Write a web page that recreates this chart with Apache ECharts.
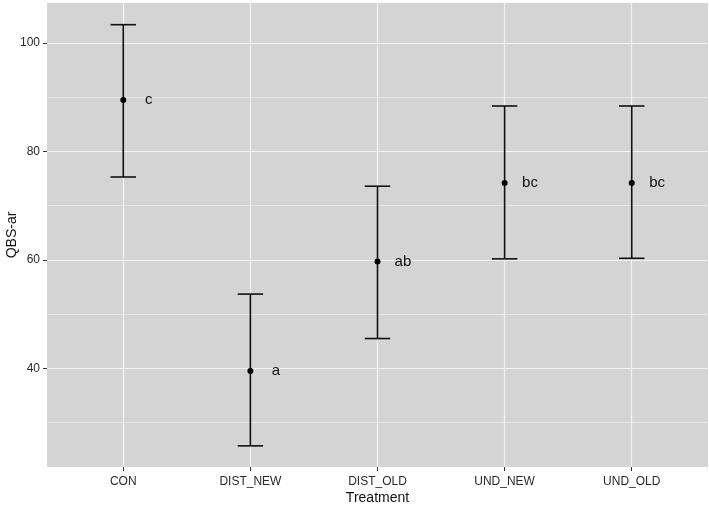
<!DOCTYPE html>
<html lang="en">
<head>
    <meta charset="UTF-8">
    <title>QBS-ar by treatment</title>
    <script src="https://cdn.jsdelivr.net/npm/echarts@6/dist/echarts.min.js"></script>
    <style>
        body { margin: 0; background: #fff; }
        #main { width: 709px; height: 506px; }
    </style>
</head>
<body>
    <div id="main"></div>
    <script type="text/javascript">
        // data
        var categories = ['CON', 'DIST_NEW', 'DIST_OLD', 'UND_NEW', 'UND_OLD'];
        var means = [89.5, 39.5, 59.7, 74.2, 74.2];
        var lower = [75.3, 25.7, 45.5, 60.2, 60.3];
        var upper = [103.4, 53.7, 73.6, 88.4, 88.4];
        var letters = ['c', 'a', 'ab', 'bc', 'bc'];
        var yTicks = [40, 60, 80, 100];
        var yMinor = [30, 50, 70, 90];

        var positions = categories.map(function (c, i) { return i + 1; });

        var rows = categories.map(function (c, i) {
            return [i + 1, means[i], lower[i], upper[i], letters[i]];
        });

        var gridLines = [];
        yTicks.forEach(function (v) {
            gridLines.push({ yAxis: v, lineStyle: { width: 1.2 } });
        });
        yMinor.forEach(function (v) {
            gridLines.push({ yAxis: v, lineStyle: { width: 0.6 } });
        });
        positions.forEach(function (v) {
            gridLines.push({ xAxis: v, lineStyle: { width: 1.2 } });
        });

        var myChart = echarts.init(document.getElementById('main'));

        var option = {
            animation: false,
            textStyle: { fontFamily: 'Liberation Sans, Arial, sans-serif' },
            grid: {
                left: 47, right: 1, top: 3, bottom: 39,
                outerBoundsMode: 'none',
                containLabel: false,
                show: true, backgroundColor: '#d4d4d4', borderWidth: 0
            },
            xAxis: {
                type: 'value',
                min: 0.4,
                max: 5.6,
                name: 'Treatment',
                nameLocation: 'middle',
                nameMoveOverlap: false,
                nameGap: 24,
                nameTextStyle: { fontSize: 14, color: '#111' },
                axisLine: { show: false },
                axisTick: { show: true, length: 4, customValues: positions, lineStyle: { color: '#333' } },
                axisLabel: {
                    customValues: positions,
                    margin: 9,
                    fontSize: 12,
                    color: '#2a2a2a',
                    formatter: function (v) { return categories[Math.round(v) - 1] || ''; }
                },
                splitLine: { show: false }
            },
            yAxis: {
                type: 'value',
                min: 21.8,
                max: 107.4,
                name: 'QBS-ar',
                nameLocation: 'middle',
                nameMoveOverlap: false,
                nameGap: 28,
                nameTextStyle: { fontSize: 14, color: '#111' },
                axisLine: { show: false },
                axisTick: { show: true, length: 4, customValues: yTicks, lineStyle: { color: '#333' } },
                axisLabel: { customValues: yTicks, margin: 7, fontSize: 12, color: '#2a2a2a' },
                splitLine: { show: false }
            },
            series: [
                {
                    name: 'grid',
                    type: 'line',
                    data: [],
                    silent: true,
                    z: 1,
                    markLine: {
                        silent: true,
                        z: 1,
                        symbol: 'none',
                        label: { show: false },
                        lineStyle: { color: '#f2f2f2', type: 'solid' },
                        emphasis: { disabled: true },
                        data: gridLines
                    }
                },
                {
                    name: 'QBS-ar',
                    type: 'custom',
                    z: 5,
                    data: rows,
                    renderItem: function (params, api) {
                        var x = api.value(0);
                        var mid = api.coord([x, api.value(1)]);
                        var lo = api.coord([x, api.value(2)]);
                        var hi = api.coord([x, api.value(3)]);
                        var capL = api.coord([x - 0.1, api.value(2)])[0];
                        var capR = api.coord([x + 0.1, api.value(2)])[0];
                        var txt = api.coord([x + 0.2, api.value(1)]);
                        var line = { stroke: '#111', lineWidth: 1.6 };
                        return {
                            type: 'group',
                            children: [
                                { type: 'line', shape: { x1: mid[0], y1: hi[1], x2: mid[0], y2: lo[1] }, style: line },
                                { type: 'line', shape: { x1: capL, y1: hi[1], x2: capR, y2: hi[1] }, style: line },
                                { type: 'line', shape: { x1: capL, y1: lo[1], x2: capR, y2: lo[1] }, style: line },
                                { type: 'circle', shape: { cx: mid[0], cy: mid[1], r: 3 }, style: { fill: '#000' } },
                                {
                                    type: 'text',
                                    x: txt[0], y: txt[1],
                                    style: {
                                        text: rows[params.dataIndex][4],
                                        fill: '#111',
                                        fontSize: 15,
                                        fontFamily: 'Liberation Sans, Arial, sans-serif',
                                        align: 'center',
                                        verticalAlign: 'middle'
                                    }
                                }
                            ]
                        };
                    }
                }
            ]
        };

        myChart.setOption(option);
    </script>
</body>
</html>
